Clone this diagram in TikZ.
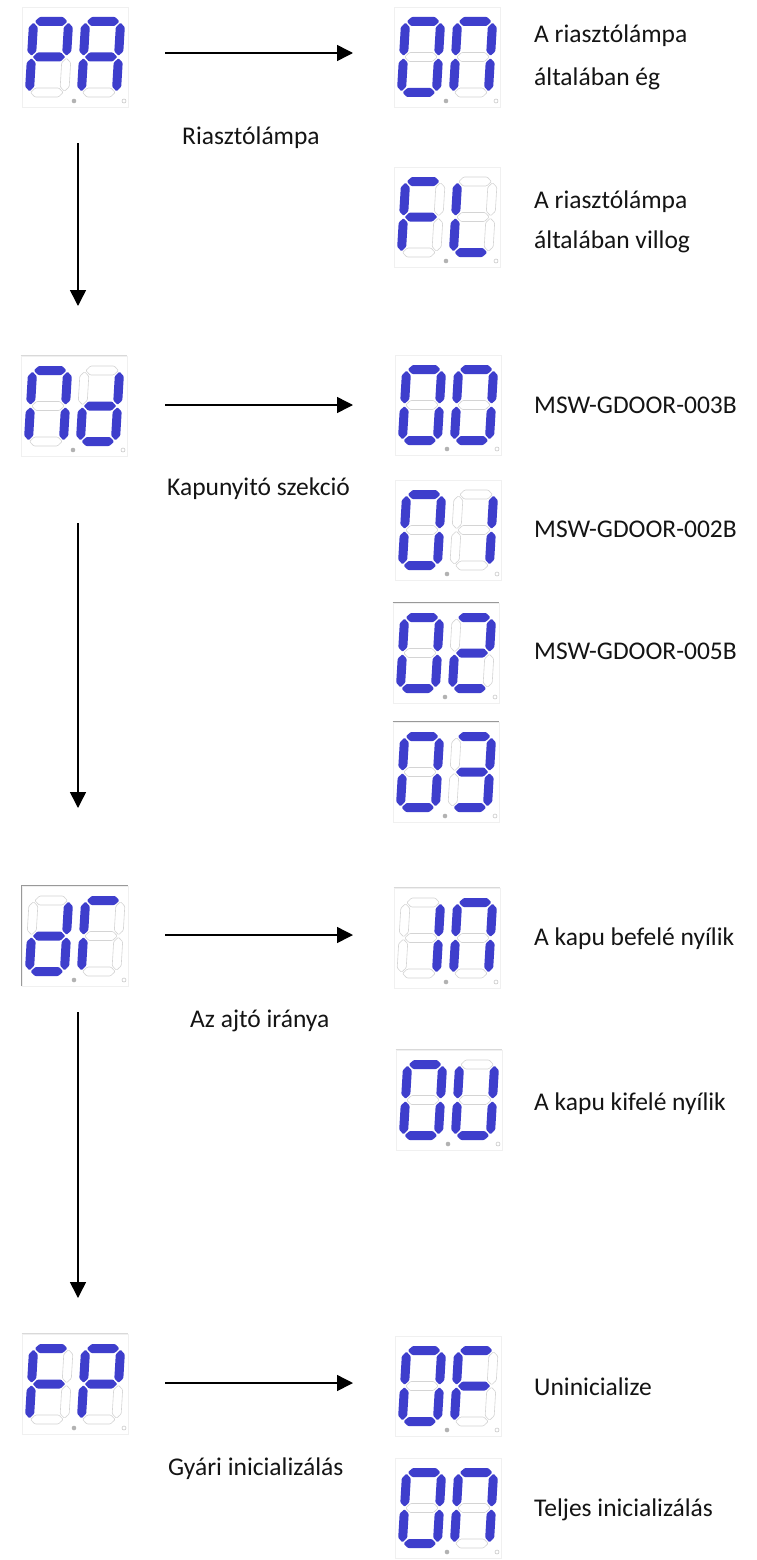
\documentclass[tikz,border=0pt]{standalone}
\usepackage{fontspec}
\setmainfont{Carlito}
\usetikzlibrary{arrows.meta}
\definecolor{segblue}{RGB}{62,62,204}
\makeatletter
\newcommand\segsel[2]{\in@{#1}{#2}\ifin@\tikzset{cur/.style={segon}}\else\tikzset{cur/.style={segoff}}\fi}
\makeatother
\newcommand\sevdigit[3]{%
  \begin{scope}[shift={(#1,#2)}, xslant=0.06]
  \segsel{a}{#3}\path[cur] (-16.3,-35.5) -- ++(4.5,-4.5) -- ++(23.6,0) -- ++(4.5,4.5) -- ++(-4.5,4.5) -- ++(-23.6,0) -- cycle;
  \segsel{g}{#3}\path[cur] (-16.3,0) -- ++(4.5,-4.5) -- ++(23.6,0) -- ++(4.5,4.5) -- ++(-4.5,4.5) -- ++(-23.6,0) -- cycle;
  \segsel{d}{#3}\path[cur] (-16.3,35.5) -- ++(4.5,-4.5) -- ++(23.6,0) -- ++(4.5,4.5) -- ++(-4.5,4.5) -- ++(-23.6,0) -- cycle;
  \segsel{f}{#3}\path[cur] (-17.5,-34.3) -- ++(4.5,4.5) -- ++(0,24.1) -- ++(-4.5,4.5) -- ++(-4.5,-4.5) -- ++(0,-24.1) -- cycle;
  \segsel{b}{#3}\path[cur] (17.5,-34.3) -- ++(4.5,4.5) -- ++(0,24.1) -- ++(-4.5,4.5) -- ++(-4.5,-4.5) -- ++(0,-24.1) -- cycle;
  \segsel{e}{#3}\path[cur] (-17.5,1.2) -- ++(4.5,4.5) -- ++(0,24.1) -- ++(-4.5,4.5) -- ++(-4.5,-4.5) -- ++(0,-24.1) -- cycle;
  \segsel{c}{#3}\path[cur] (17.5,1.2) -- ++(4.5,4.5) -- ++(0,24.1) -- ++(-4.5,4.5) -- ++(-4.5,-4.5) -- ++(0,-24.1) -- cycle;
  \end{scope}
}
\newcommand\disp[5]{%
  \node[dispbox] (#1) at (#2,#3) {};
  \sevdigit{#2-26}{#3}{#4}
  \sevdigit{#2+26}{#3}{#5}
  \fill[black!30] (#2-1,#3+44) circle (2.3);
  \draw[black!25, line width=0.5pt] (#2+49,#3+44) circle (2);
}
\tikzset{
  segon/.style={fill=segblue, rounded corners=1pt},
  segoff/.style={draw=black!17, line width=0.6pt, fill=white, rounded corners=1pt},
  dispbox/.style={rectangle, draw=black!6, line width=0.6pt, minimum width=106pt, minimum height=100pt, inner sep=0pt},
  topdark/.style={draw=black!40, line width=0.8pt},
  toplight/.style={draw=black!15, line width=0.8pt},
  txt/.style={font=\fontsize{25.5}{30}\selectfont, inner sep=0pt, anchor=base west, text=black!92},
  arr/.style={line width=1.5pt, -{Triangle[length=16pt,width=16pt]}},
}
\begin{document}
\begin{tikzpicture}[x=1pt,y=-1pt]
\fill[white] (0,0) rectangle (756,1560);
\useasboundingbox (0,0) rectangle (756,1560);

% displays
\disp{PA}{75}{57}{abefg}{abcefg}
\disp{ONa}{447}{57}{abcdef}{abcef}
\disp{FL}{447}{217}{aefg}{def}
\disp{Nd}{74}{406}{abcef}{bcdeg}
\disp{OO}{448}{405}{abcdef}{abcdef}
\disp{OI}{448}{530}{abcdef}{bc}
\disp{OZ}{446}{653}{abcdef}{abdeg}
\disp{OT}{446}{772}{abcdef}{abcdg}
\disp{dr}{75}{936}{bcdeg}{aef}
\disp{IN}{447}{938}{bc}{abcef}
\disp{OU}{449}{1100}{abcdef}{bcdef}
\disp{FP}{75}{1384}{aefg}{abefg}
\disp{OF}{448}{1386}{abcdef}{aefg}
\disp{ONb}{448}{1508}{abcdef}{abcef}

% visible top edges
\draw[toplight] (Nd.north west) -- (Nd.north east);
\draw[topdark] (OZ.north west) -- (OZ.north east);
\draw[topdark] (OT.north west) -- (OT.north east);
\draw[topdark] (dr.south west) -- (dr.north west) -- (dr.north east);
\draw[toplight] (IN.north west) -- (IN.north east);
\draw[toplight] (OU.north west) -- (OU.north east);
\draw[toplight] (FP.north west) -- (FP.north east);

% connectors
\coordinate (h1s) at (165,53);  \coordinate (h1e) at (353,53);
\coordinate (h2s) at (165,405); \coordinate (h2e) at (353,405);
\coordinate (h3s) at (165,935); \coordinate (h3e) at (353,935);
\coordinate (h4s) at (165,1383);\coordinate (h4e) at (353,1383);
\coordinate (v1s) at (78,143);  \coordinate (v1e) at (78,306);
\coordinate (v2s) at (78,523);  \coordinate (v2e) at (78,808);
\coordinate (v3s) at (78,1012); \coordinate (v3e) at (78,1298);
\draw[arr] (h1s) -- (h1e);
\draw[arr] (h2s) -- (h2e);
\draw[arr] (h3s) -- (h3e);
\draw[arr] (h4s) -- (h4e);
\draw[arr] (v1s) -- (v1e);
\draw[arr] (v2s) -- (v2e);
\draw[arr] (v3s) -- (v3e);

% labels under horizontal arrows
\node[txt] (l1) at (182,145) {Riasztólámpa};
\node[txt] (l2) at (167,495) {Kapunyitó szekció};
\node[txt] (l3) at (190,1027) {Az ajtó iránya};
\node[txt] (l4) at (168,1475) {Gyári inicializálás};

% option texts
\node[txt] (t1a) at (534,43) {A riasztólámpa};
\node[txt] (t1b) at (534,86) {általában ég};
\node[txt] (t2a) at (534,208) {A riasztólámpa};
\node[txt] (t2b) at (534,248) {általában villog};
\node[txt] (t3) at (534,413) {MSW-GDOOR-003B};
\node[txt] (t4) at (534,537) {MSW-GDOOR-002B};
\node[txt] (t5) at (534,659) {MSW-GDOOR-005B};
\node[txt] (t6) at (534,945) {A kapu befelé nyílik};
\node[txt] (t7) at (534,1110) {A kapu kifelé nyílik};
\node[txt] (t8) at (534,1395) {Uninicialize};
\node[txt] (t9) at (534,1516) {Teljes inicializálás};
\end{tikzpicture}
\end{document}
